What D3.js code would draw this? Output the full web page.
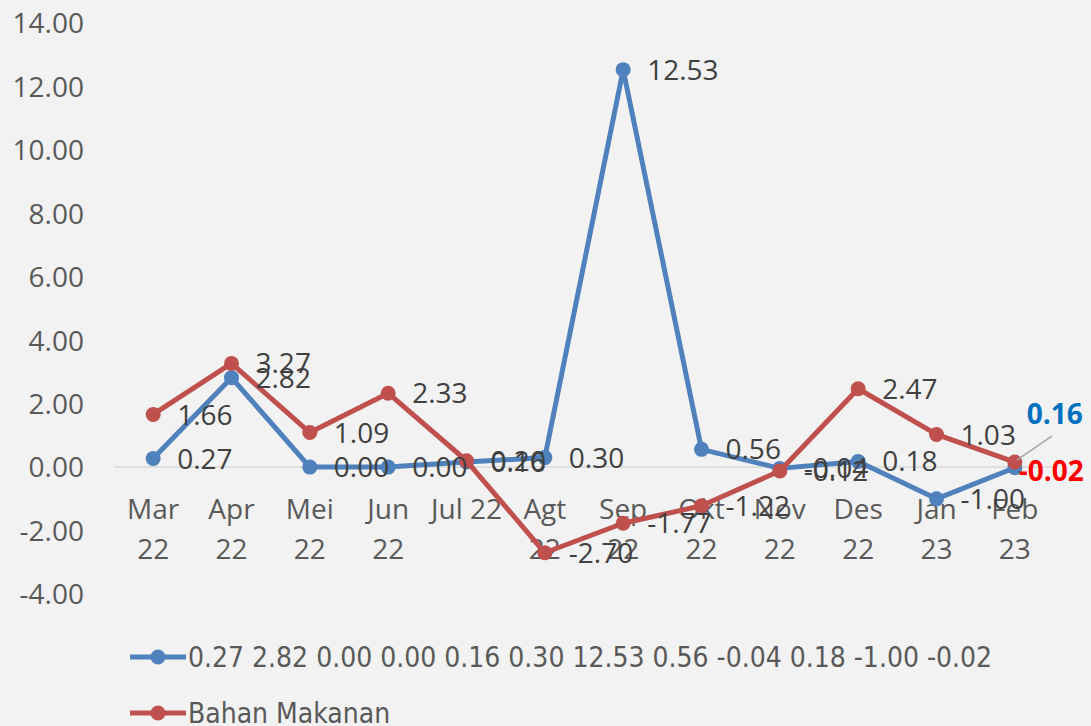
<!DOCTYPE html>
<html>
<head>
	<meta charset="utf-8">
	<title>Bahan Makanan</title>
	<script src="https://cdnjs.cloudflare.com/ajax/libs/d3/7.8.5/d3.min.js"></script>
	<style>
		body { margin: 0; background: #f2f2f2; }
		svg { display: block; background: #f2f2f2; }
		.tick text, .cat text { font-family: "Open Sans", sans-serif; font-size: 28px; fill: #595959; }
		.lbl { font-family: "Open Sans", sans-serif; font-size: 28px; fill: #404040; }
		.legend text { font-family: "Liberation Sans Narrow", "DejaVu Sans Condensed", sans-serif; font-size: 28px; fill: #595959; }
	</style>
</head>
<body>
	<svg id="chart" width="1091" height="726"></svg>
	<script>
		var categories = ["Mar 22","Apr 22","Mei 22","Jun 22","Jul 22","Agt 22","Sep 22","Okt 22","Nov 22","Des 22","Jan 23","Feb 23"];
		var seriesNames = ["0.27 2.82 0.00 0.00 0.16 0.30 12.53 0.56 -0.04 0.18 -1.00 -0.02", "Bahan Makanan"];
		var blueValues = [0.27, 2.82, 0.00, 0.00, 0.16, 0.30, 12.53, 0.56, -0.04, 0.18, -1.00, -0.02];
		var redValues = [1.66, 3.27, 1.09, 2.33, 0.20, -2.70, -1.77, -1.22, -0.12, 2.47, 1.03, 0.16];
		var yTicks = [-4, -2, 0, 2, 4, 6, 8, 10, 12, 14];
		var colors = ["#4f81bd", "#c0504d"];

		// plain hyphen for negatives, like the original
		var fmt = d3.formatLocale({decimal: ".", thousands: ",", grouping: [3], currency: ["", ""], minus: "-"}).format(".2f");

		var svg = d3.select("#chart");
		var plotLeft = 114, plotRight = 1054, plotTop = 23, plotBottom = 594;

		var x = d3.scaleBand().domain(categories).range([plotLeft, plotRight]);
		var y = d3.scaleLinear().domain([-4, 14]).range([plotBottom, plotTop]);
		var cx = function(i){ return x(categories[i]) + x.bandwidth()/2; };

		// y axis, labels only
		var yAxis = svg.append("g")
			.attr("transform", "translate(" + 84 + ",0)")
			.call(d3.axisLeft(y).tickValues(yTicks).tickFormat(fmt).tickSize(0).tickPadding(0));
		yAxis.select(".domain").remove();
		yAxis.selectAll("text").attr("dy", "0.35em");

		// zero line
		svg.append("line")
			.attr("x1", plotLeft).attr("x2", plotRight)
			.attr("y1", y(0)).attr("y2", y(0))
			.attr("stroke", "#d9d9d9").attr("stroke-width", 1.5);

		// category labels, wrapped when too wide
		var cat = svg.append("g").attr("class", "cat");
		categories.forEach(function(c, i){
			var t = cat.append("text").attr("text-anchor", "middle").attr("x", cx(i)).attr("y", y(0) + 52).text(c);
			if (t.node().getComputedTextLength() > 76) {
				var parts = c.split(" ");
				t.text(null);
				parts.forEach(function(p, k){
					t.append("tspan").attr("x", cx(i)).attr("y", y(0) + 52 + k*40).text(p);
				});
			}
		});

		var line = d3.line()
			.x(function(d, i){ return cx(i); })
			.y(function(d){ return y(d); });

		[blueValues, redValues].forEach(function(vals, s){
			svg.append("path")
				.attr("d", line(vals))
				.attr("fill", "none")
				.attr("stroke", colors[s])
				.attr("stroke-width", 5)
				.attr("stroke-linejoin", "round");
			svg.selectAll(".pt" + s).data(vals).enter().append("circle")
				.attr("cx", function(d, i){ return cx(i); })
				.attr("cy", function(d){ return y(d); })
				.attr("r", 7.5)
				.attr("fill", colors[s]);
		});

		// data labels (last point of each series styled separately)
		[blueValues, redValues].forEach(function(vals, s){
			vals.forEach(function(v, i){
				if (i == vals.length - 1) return;
				svg.append("text").attr("class", "lbl")
					.attr("x", cx(i) + 24).attr("y", y(v)).attr("dy", "0.36em")
					.text(fmt(v));
			});
		});

		var last = categories.length - 1;
		svg.append("line")
			.attr("x1", cx(last) + 2).attr("y1", y(redValues[last]) - 2)
			.attr("x2", cx(last) + 37).attr("y2", y(redValues[last]) - 26)
			.attr("stroke", "#a6a6a6").attr("stroke-width", 1.5);
		svg.append("text").attr("class", "lbl")
			.attr("x", cx(last) + 12).attr("y", y(redValues[last]) - 48).attr("dy", "0.36em")
			.style("font-weight", "bold").style("fill", "#0070c0")
			.text(fmt(redValues[last]));
		svg.append("text").attr("class", "lbl")
			.attr("x", cx(last) + 4).attr("y", y(blueValues[last]) + 3).attr("dy", "0.36em")
			.style("font-weight", "bold").style("fill", "#ff0000")
			.text(fmt(blueValues[last]));

		// legend
		var legend = svg.append("g").attr("class", "legend");
		seriesNames.forEach(function(n, s){
			var ly = 657 + s*56;
			legend.append("line").attr("x1", 130).attr("x2", 186).attr("y1", ly).attr("y2", ly)
				.attr("stroke", colors[s]).attr("stroke-width", 5);
			legend.append("circle").attr("cx", 158).attr("cy", ly).attr("r", 7.5).attr("fill", colors[s]);
			legend.append("text").attr("x", 188).attr("y", ly).attr("dy", "0.36em").text(n);
		});
	</script>
</body>
</html>
